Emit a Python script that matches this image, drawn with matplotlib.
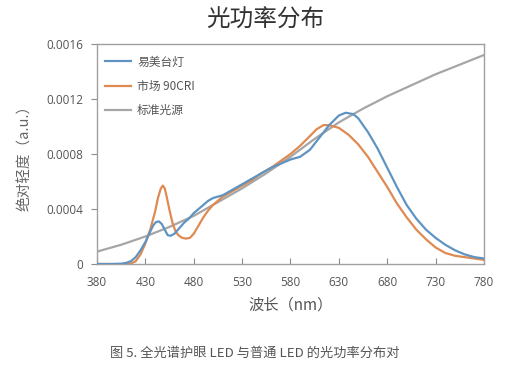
import matplotlib
matplotlib.use("Agg")
import matplotlib.pyplot as plt

plt.rcParams['font.family'] = ['Noto Sans CJK SC', 'DejaVu Sans']

# ---- data ----
blue_nm = [380, 395, 405, 410, 415, 420, 425, 430, 434, 438, 441, 444, 447, 450, 453, 456,
           460, 465, 470, 475, 480, 485, 490, 495, 500, 505, 510, 515, 520, 525, 530, 540,
           550, 560, 570, 580, 590, 600, 610, 620, 630, 637, 645, 650, 655, 660, 665, 670,
           675, 680, 690, 700, 710, 720, 730, 740, 750, 760, 770, 780]
blue_val = [0.0, 0.0, 0.000002, 0.000008, 0.00002, 0.00005, 0.0001, 0.00016, 0.00022, 0.00028,
            0.000305, 0.00031, 0.00029, 0.00025, 0.00021, 0.000205,
            0.00022, 0.00026, 0.0003, 0.00033, 0.00037, 0.0004, 0.00043, 0.00046, 0.00048, 0.00049,
            0.0005, 0.00052, 0.00054, 0.00056, 0.00058, 0.00062,
            0.00066, 0.0007, 0.00073, 0.00076, 0.00078, 0.00083, 0.00092, 0.00101, 0.00108, 0.0011,
            0.00109, 0.00106, 0.00101, 0.00096, 0.0009, 0.00084,
            0.00077, 0.0007, 0.00056, 0.00043, 0.00033, 0.00025, 0.00019, 0.00014, 0.0001, 0.00007,
            0.00005, 0.00004]

orange_nm = [380, 400, 410, 415, 420, 425, 430, 435, 440, 443, 446, 448, 450, 452, 455, 458,
             461, 464, 468, 472, 476, 480, 485, 490, 495, 500, 505, 510, 520, 530, 540, 550,
             560, 570, 580, 590, 600, 607, 614, 620, 630, 640, 650, 660, 670, 680, 690, 700,
             710, 720, 730, 740, 750, 760, 770, 780]
orange_val = [0.0, 0.0, 0.0, 0.000003, 0.00002, 0.00007, 0.00015, 0.00025, 0.00038, 0.00048,
              0.00055, 0.00057, 0.00055, 0.00049, 0.00039, 0.0003,
              0.00024, 0.00021, 0.00019, 0.000185, 0.00019, 0.00022, 0.00028, 0.00034, 0.00039,
              0.00043, 0.00046, 0.00049, 0.00053, 0.00057, 0.00061, 0.00066,
              0.0007, 0.00075, 0.0008, 0.00086, 0.00093, 0.00098, 0.00101, 0.00101, 0.00099,
              0.00094, 0.00087, 0.00078, 0.00067, 0.00056, 0.00044, 0.00034,
              0.00025, 0.00018, 0.00012, 0.00008, 0.00006, 0.00005, 0.00004, 0.00003]

gray_nm = [380, 405, 430, 455, 480, 505, 530, 555, 580, 605, 630, 655, 680, 705, 730, 755, 780]
gray_val = [0.00009, 0.00014, 0.0002, 0.00027, 0.00035, 0.00045, 0.00055, 0.00066, 0.00078,
            0.00091, 0.00103, 0.00113, 0.00122, 0.0013, 0.00138, 0.00145, 0.00152]

series_labels = ['易美台灯', '市场 90CRI', '标准光源']
x_ticks = [380, 430, 480, 530, 580, 630, 680, 730, 780]
y_ticks = [0, 0.0004, 0.0008, 0.0012, 0.0016]
y_tick_labels = ['0', '0.0004', '0.0008', '0.0012', '0.0016']

title = '光功率分布'
x_label = '波长（nm）'
y_label = '绝对轻度（a.u.）'
caption = '图 5. 全光谱护眼 LED 与普通 LED 的光功率分布对'

# ---- figure ----
fig = plt.figure(figsize=(5.05, 3.66), dpi=100)
ax = fig.add_axes([97/505, 1-264/366, (484-97)/505, (264-44)/366])

c_blue = '#5f94c2'
c_orange = '#df8a52'
c_gray = '#a6a6a6'
lw = 1.6
ax.plot(blue_nm, blue_val, color=c_blue, lw=lw, label=series_labels[0], zorder=3)
ax.plot(orange_nm, orange_val, color=c_orange, lw=lw, label=series_labels[1], zorder=2)
ax.plot(gray_nm, gray_val, color=c_gray, lw=lw, label=series_labels[2], zorder=1)

ax.set_xlim(380, 780)
ax.set_ylim(0, 0.0016)
ax.set_xticks(x_ticks)
ax.set_yticks(y_ticks)
ax.set_yticklabels(y_tick_labels)

for s in ax.spines.values():
    s.set_color('#a0a0a0')
    s.set_linewidth(1.0)

ax.tick_params(axis='x', direction='in', length=4, color='#8c8c8c', labelsize=8.5,
               labelcolor='#555555', pad=9)
ax.tick_params(axis='y', direction='out', length=4, color='#8c8c8c', labelsize=8.5,
               labelcolor='#555555', pad=6)
for t in ax.get_xticklabels() + ax.get_yticklabels():
    t.set_family(['Open Sans', 'DejaVu Sans'])

ax.set_xlabel(x_label, fontsize=11, color='#555555', labelpad=5)
ax.set_ylabel(y_label, fontsize=10.5, color='#666666', labelpad=10)

leg = ax.legend(loc='upper left', frameon=False, fontsize=8.5, handlelength=2.2,
                handletextpad=0.5, labelspacing=0.95, borderaxespad=0.3,
                bbox_to_anchor=(0.0, 0.985))
for t in leg.get_texts():
    t.set_color('#555555')

fig.text(265/505, 1-20/366, title, ha='center', va='center', fontsize=17, color='#333333')
fig.text(255/505, 1-353/366, caption, ha='center', va='center', fontsize=9.5, color='#555555')

fig.savefig('out.png', dpi=100)
